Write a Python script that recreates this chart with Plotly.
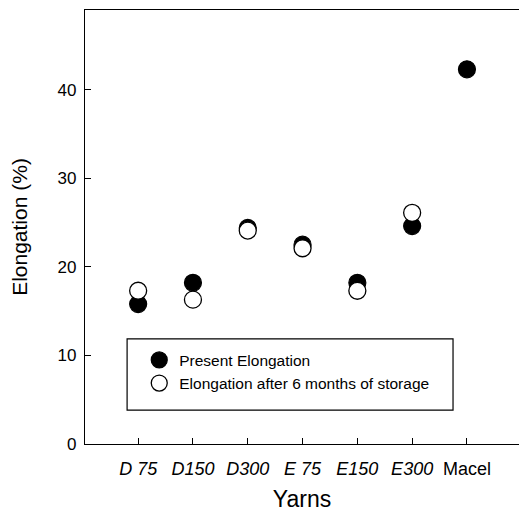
import plotly.graph_objects as go

# Yarn samples and elongation readings (%)
yarns = ["D 75", "D150", "D300", "E 75", "E150", "E300", "Macel"]
tick_labels = ["<i>D 75</i>", "<i>D150</i>", "<i>D300</i>", "<i>E 75</i>",
               "<i>E150</i>", "<i>E300</i>", "Macel"]
present = [15.8, 18.2, 24.4, 22.5, 18.2, 24.6, 42.3]
stored = [17.3, 16.3, 24.1, 22.1, 17.3, 26.1, None]

xpos = list(range(len(yarns)))
font_family = "Liberation Sans, Arial, sans-serif"

fig = go.Figure()
fig.add_trace(go.Scatter(
    x=xpos, y=present, mode="markers", name="Present Elongation",
    marker=dict(size=17, color="black", line=dict(color="black", width=1.2)),
))
fig.add_trace(go.Scatter(
    x=xpos, y=stored, mode="markers", name="Elongation after 6 months of storage",
    marker=dict(size=17, color="white", line=dict(color="black", width=1.3)),
))

# legend frame
fig.add_shape(type="rect", xref="paper", yref="paper",
              x0=0.097, x1=0.848, y0=0.078, y1=0.242,
              line=dict(color="black", width=1.2), fillcolor="rgba(0,0,0,0)")

fig.update_layout(
    width=519, height=512,
    margin=dict(l=85, r=0, t=10, b=68, pad=0),
    paper_bgcolor="white", plot_bgcolor="white",
    font=dict(family=font_family, color="black"),
    showlegend=True,
    legend=dict(x=0.125, y=0.232, xanchor="left", yanchor="top",
                bgcolor="rgba(0,0,0,0)", borderwidth=0,
                font=dict(size=15.5, family=font_family),
                itemsizing="trace", tracegroupgap=0),
    xaxis=dict(
        range=[-0.97, 6.95], tickvals=xpos, ticktext=tick_labels,
        ticks="inside", ticklen=6, tickcolor="black", tickwidth=1,
        showline=True, linecolor="black", linewidth=1.2, mirror=True,
        showgrid=False, zeroline=False, ticklabelstandoff=8,
        tickfont=dict(size=18), title=dict(text="Yarns", font=dict(size=23), standoff=16),
    ),
    yaxis=dict(
        range=[0, 49], tickvals=[0, 10, 20, 30, 40],
        ticks="inside", ticklen=6, tickcolor="black", tickwidth=1,
        showline=True, linecolor="black", linewidth=1.2, mirror=False,
        showgrid=False, zeroline=False, ticklabelstandoff=4,
        tickfont=dict(size=17), title=dict(text="Elongation (%)", font=dict(size=21), standoff=24),
    ),
)

fig.write_html("out.html", config=dict(staticPlot=True, displayModeBar=False))
